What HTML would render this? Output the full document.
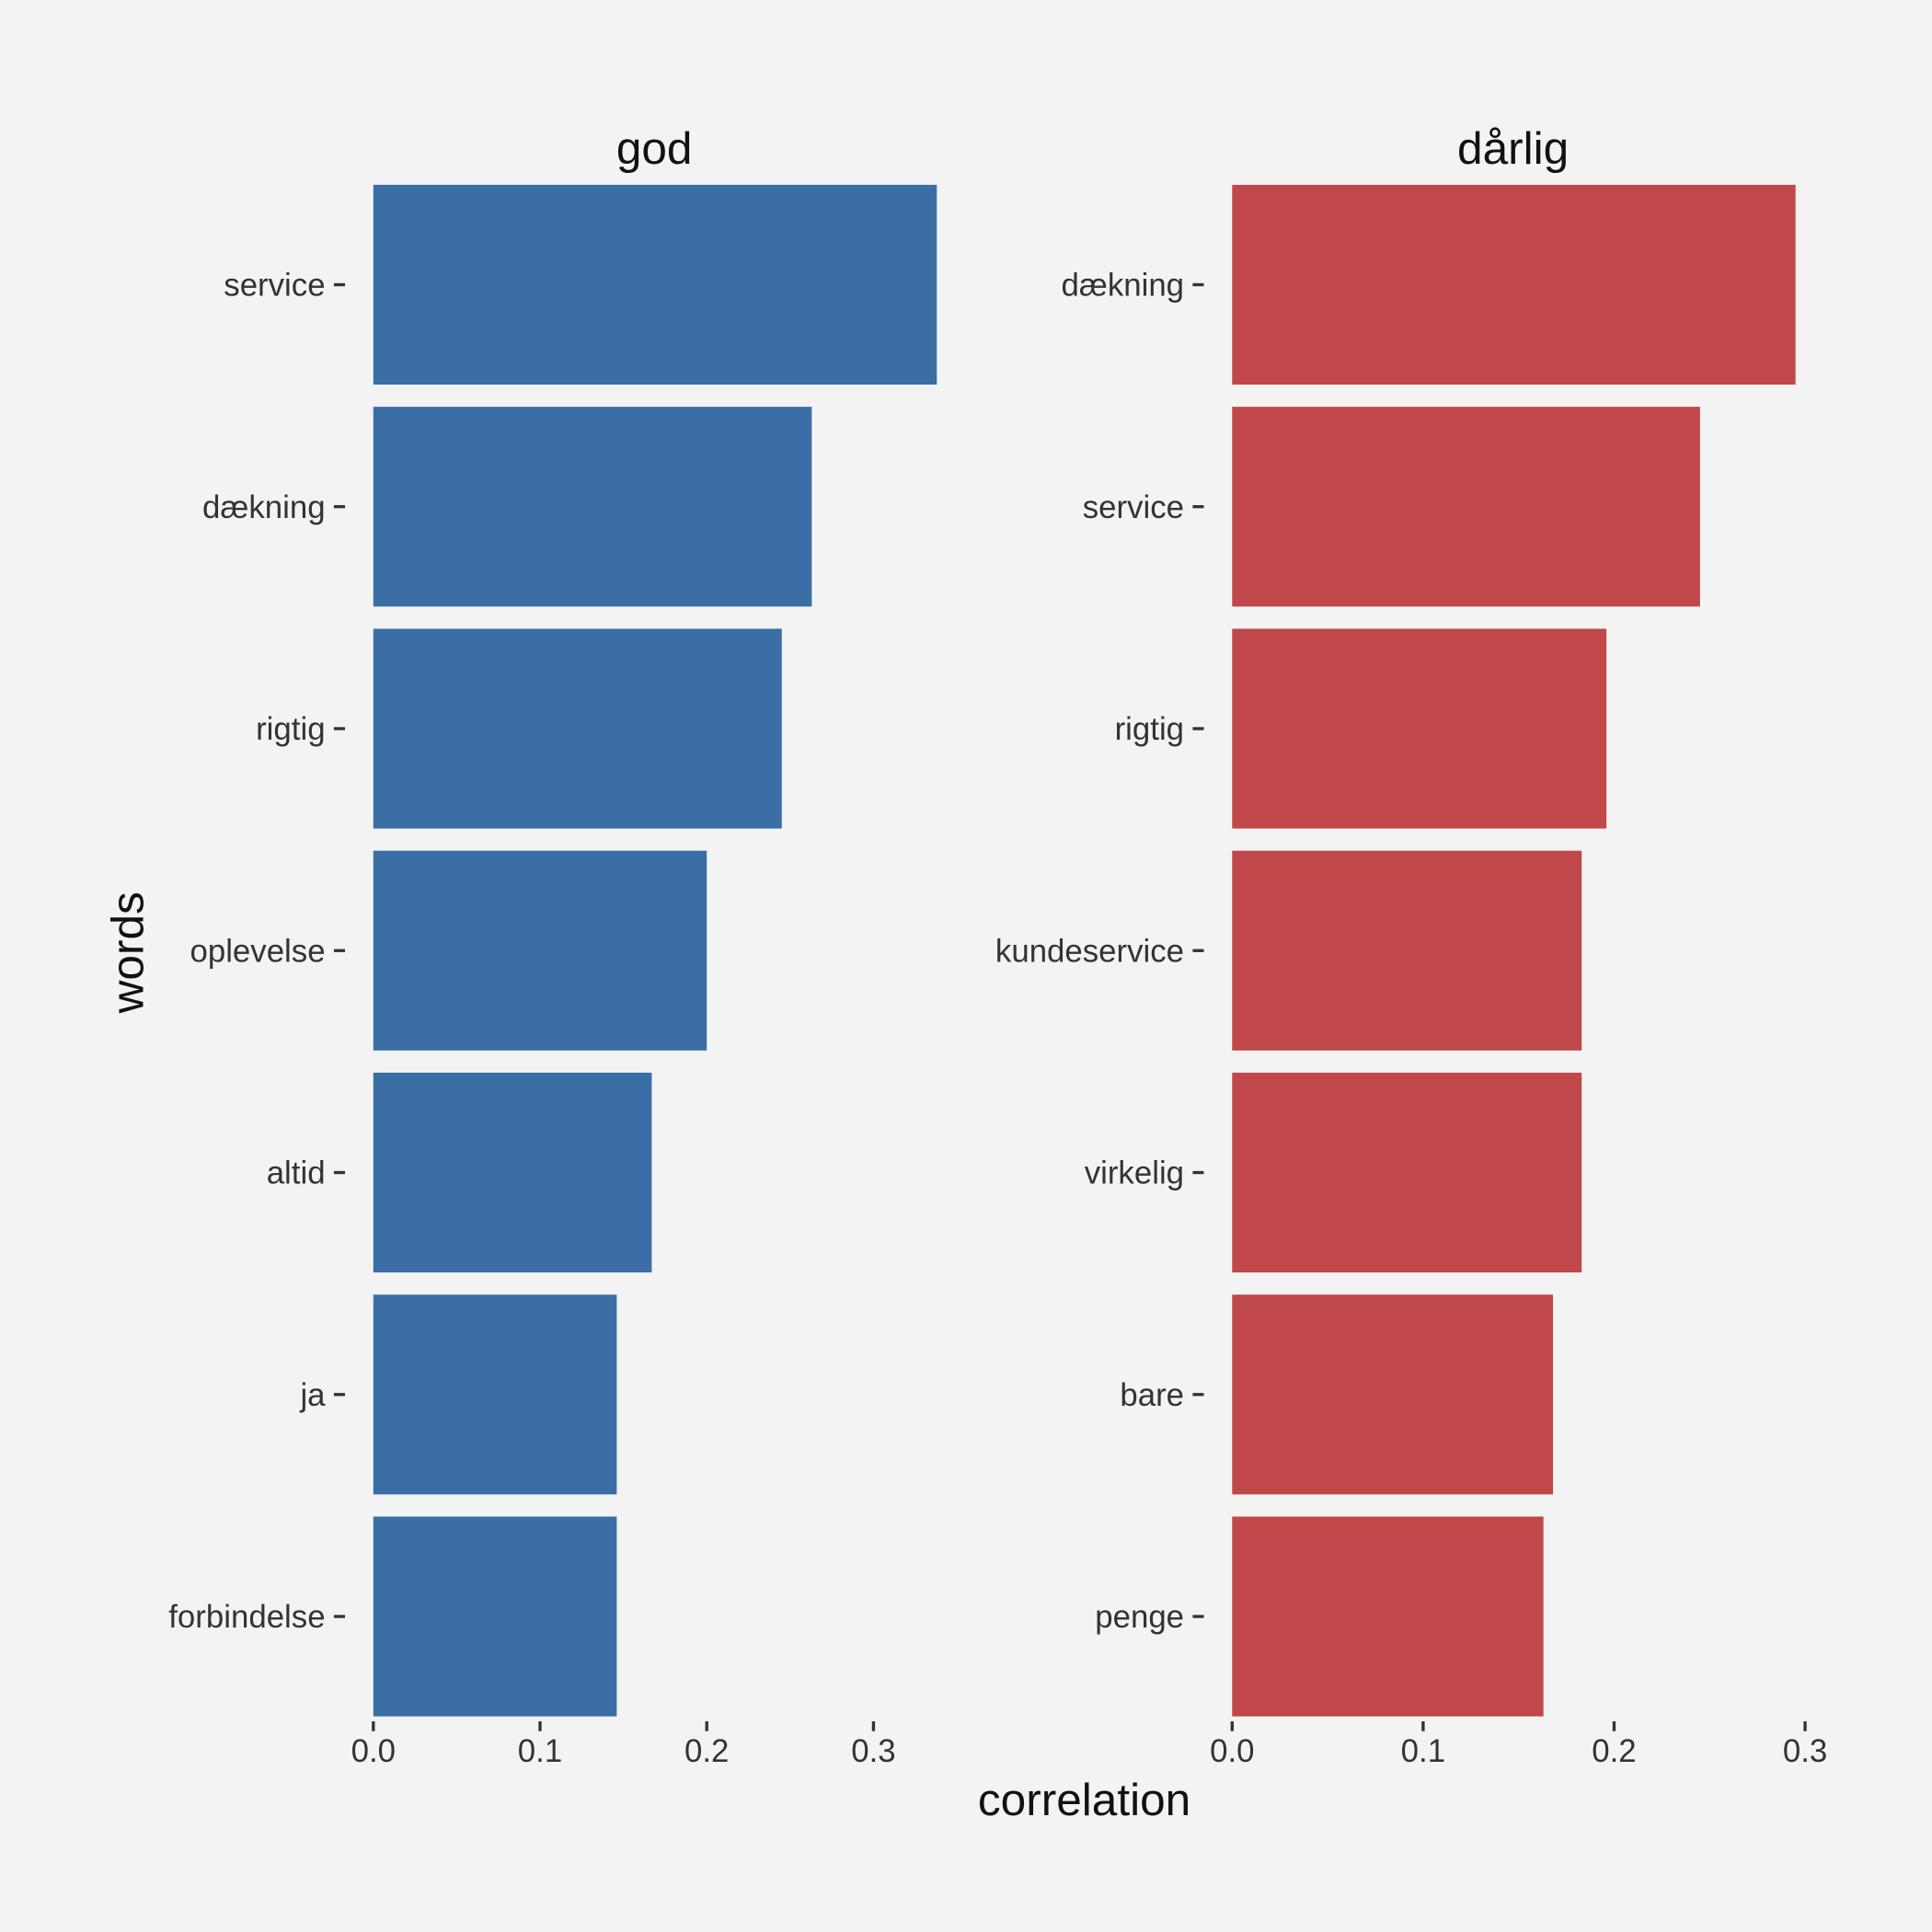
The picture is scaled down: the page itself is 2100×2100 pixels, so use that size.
<!DOCTYPE html>
<html><head><meta charset="utf-8"><style>
html,body{margin:0;padding:0;background:#f3f3f3}
svg{display:block}
text{font-family:"Liberation Sans",Arial,sans-serif}
</style></head><body>
<svg id="chart" width="2100" height="2100" viewBox="0 0 1568 1568" xmlns="http://www.w3.org/2000/svg">
<rect width="1568" height="1568" fill="#f3f3f3"/>
<text x="880" y="1473" font-size="37" text-anchor="middle" fill="#111">correlation</text>
<text transform="translate(116,773) rotate(-90)" font-size="37" text-anchor="middle" fill="#111">words</text>
</svg>
<script>
const godWords = ["service","dækning","rigtig","oplevelse","altid","ja","forbindelse"];
const godValues = [0.338,0.263,0.245,0.200,0.167,0.146,0.146];
const darligWords = ["dækning","service","rigtig","kundeservice","virkelig","bare","penge"];
const darligValues = [0.295,0.245,0.196,0.183,0.183,0.168,0.163];
const xTicks = [0.0,0.1,0.2,0.3];
const xTickLabels = ["0.0","0.1","0.2","0.3"];
const panelTitles = ["god","dårlig"];

const NS="http://www.w3.org/2000/svg";
const svgEl=document.getElementById('chart');
function mk(tag,attrs){const e=document.createElementNS(NS,tag);for(const k in attrs)e.setAttribute(k,attrs[k]);svgEl.appendChild(e);return e;}
const plotTop=141, plotBottom=1402;
const panels=[
 {x0:303, perTenth:135.3, words:godWords, vals:godValues, color:"#3a6ea5", title:panelTitles[0], cx:531},
 {x0:1000, perTenth:155, words:darligWords, vals:darligValues, color:"#c0474a", title:panelTitles[1], cx:1228}
];
panels.forEach((p,pi)=>{
  const xs=v=>p.x0+v*p.perTenth*10;
  const n=p.words.length, band=(plotBottom-plotTop)/n;
  const ys=i=>plotTop+band*i;
  const t=mk('text',{x:p.cx,y:133,'font-size':37,'text-anchor':'middle',fill:'#111'});
  t.textContent=p.title;
  
  
  p.words.forEach((w,i)=>{
    const y=ys(i)+band*0.05, h=band*0.9;
    const r=mk('rect',{x:xs(0),y:y,width:xs(p.vals[i])-xs(0),height:h,fill:p.color});
    
    
    const cy=ys(i)+band/2;
    const tk=mk('line',{x1:p.x0-32,x2:p.x0-23,y1:cy,y2:cy,stroke:'#333','stroke-width':2.5});
    
    
    const lb=mk('text',{x:p.x0-39,y:cy+9,'font-size':26,'text-anchor':'end',fill:'#333'});
    lb.textContent=w;
    
    
  });
  xTicks.forEach((v,i)=>{
    const x=xs(v);
    const tk=mk('line',{x1:x,x2:x,y1:1397,y2:1405,stroke:'#333','stroke-width':2.5});
    
    
    const lb=mk('text',{x:x,y:1430,'font-size':26,'text-anchor':'middle',fill:'#333'});
    lb.textContent=xTickLabels[i];
    
    
  });
});
</script>
</body></html>
